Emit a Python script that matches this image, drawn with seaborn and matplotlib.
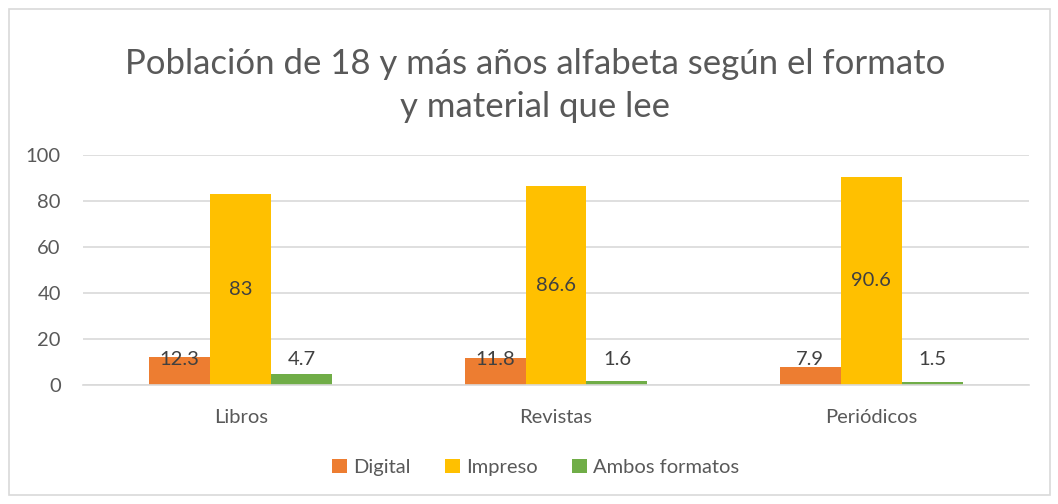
import matplotlib
matplotlib.use("Agg")
import matplotlib.pyplot as plt
import seaborn as sns
import pandas as pd
from matplotlib.patches import Rectangle

categorias = ["Libros", "Revistas", "Periódicos"]
series = ["Digital", "Impreso", "Ambos formatos"]
digital = [12.3, 11.8, 7.9]
impreso = [83, 86.6, 90.6]
ambos = [4.7, 1.6, 1.5]
colores = ["#ED7D31", "#FFC000", "#70AD47"]
yticks = [0, 20, 40, 60, 80, 100]
titulo = "Población de 18 y más años alfabeta según el formato\ny material que lee"

valores = [digital, impreso, ambos]
rows = []
for s, vals in zip(series, valores):
    for c, v in zip(categorias, vals):
        rows.append({"cat": c, "serie": s, "val": v})
df = pd.DataFrame(rows)

sns.set_theme(style="white")
plt.rcParams["font.family"] = ["Lato", "DejaVu Sans"]
txt = "#595959"

fig = plt.figure(figsize=(10.58, 5.04), dpi=100)
fig.patches.append(Rectangle((9/1058, 9/504), 1041/1058, 486/504, transform=fig.transFigure,
                             fill=False, edgecolor="#D9D9D9", linewidth=1.2))
ax = fig.add_axes([83/1058, 119/504, 946/1058, 230/504])
sns.barplot(data=df, x="cat", y="val", hue="serie", palette=colores, width=0.58,
            saturation=1, ax=ax, legend=True, linewidth=0)
ax.set_ylim(0, 100)
ax.set_yticks(yticks)
ax.yaxis.grid(True, color="#D9D9D9", linewidth=1.2)
ax.set_axisbelow(True)
for sp in ["left", "right", "top"]:
    ax.spines[sp].set_visible(False)
ax.spines["bottom"].set_color("#D9D9D9")
ax.spines["bottom"].set_linewidth(1.2)
ax.tick_params(axis="both", length=0, labelsize=14.5, colors=txt)
ax.tick_params(axis="y", pad=16)
ax.tick_params(axis="x", pad=17)
ax.set_xlabel("")
ax.set_ylabel("")

for cont in ax.containers:
    for bar in cont:
        h = bar.get_height()
        xc = bar.get_x() + bar.get_width() / 2
        yl = h / 2 if h / 2 > 11 else 11.3
        ax.text(xc, yl, f"{h:g}", ha="center", va="center", fontsize=14.5, color="#404040")

handles, labels = ax.get_legend_handles_labels()
ax.get_legend().remove()
fig.legend(handles, labels, loc="center", bbox_to_anchor=(0.506, 0.073), ncol=3, frameon=False,
           fontsize=14.5, labelcolor=txt, handlelength=0.75, handleheight=0.75, handletextpad=0.3,
           columnspacing=1.7)

fig.text(0.506, 0.830, titulo, ha="center", va="center", fontsize=25, color=txt,
         linespacing=1.4)

fig.savefig("out.png", dpi=100)
